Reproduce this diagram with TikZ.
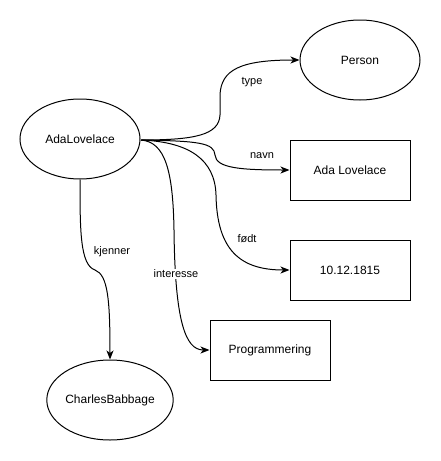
\documentclass[tikz,border=0pt]{standalone}
\usepackage{fontspec}
\setmainfont{Liberation Sans}
\usetikzlibrary{arrows.meta,shapes.geometric}
\begin{document}
\begin{tikzpicture}[x=1pt,y=-1pt,
  ell/.style={draw,line width=1pt,ellipse,minimum width=120pt,minimum height=80pt,inner sep=0pt,font=\fontsize{12pt}{14pt}\selectfont},
  box/.style={draw,line width=1pt,rectangle,minimum width=120pt,minimum height=60pt,inner sep=0pt,font=\fontsize{12pt}{14pt}\selectfont},
  conn/.style={line width=1pt,-{Stealth[length=9pt,width=7pt,inset=2.5pt]}},
  lab/.style={fill=white,inner sep=1pt,font=\fontsize{11pt}{13pt}\selectfont}]
\useasboundingbox (0,0) rectangle (441,461);
\node[ell] (ada) at (80,139) {AdaLovelace};
\node[ell] (person) at (360,60) {Person};
\node[box] (navn) at (350,170) {Ada Lovelace};
\node[box] (fodt) at (350,270) {10.12.1815};
\node[box] (prog) at (270,350) {Programmering};
\node[ell] (charles) at (110,400) {CharlesBabbage};
\coordinate (s) at (141,140);
\draw[conn] (s) .. controls (195,140) and (219,135) .. (220,115) -- (220,95) .. controls (221,70) and (240,60) .. (person.west);
\draw[conn] (s) .. controls (200,141) and (214,143) .. (215,155) .. controls (216,168) and (240,170) .. (navn.west);
\draw[conn] (s) .. controls (190,142) and (215,160) .. (216,195) .. controls (217,250) and (240,270) .. (fodt.west);
\draw[conn] (s) .. controls (165,142) and (173,170) .. (174,230) .. controls (175,320) and (185,350) .. (prog.west);
\draw[conn] (ada.south) .. controls (80,230) and (80,265) .. (95,270) .. controls (108,275) and (110,300) .. (charles.north);
\node[lab] (l1) at (252,82) {type};
\node[lab] (l2) at (262,156) {navn};
\node[lab] (l3) at (247,239) {født};
\node[lab] (l4) at (176,274) {interesse};
\node[lab] (l5) at (112,252) {kjenner};
\end{tikzpicture}
\end{document}
